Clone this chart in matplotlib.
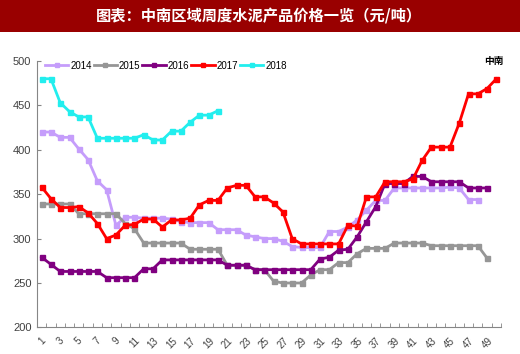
# -*- coding: utf-8 -*-
"""中南区域周度水泥产品价格一览 (weekly cement price, central-south region)"""

import numpy as np
import matplotlib
matplotlib.use('Agg')
import matplotlib.pyplot as plt
from matplotlib.patches import Rectangle

plt.rcParams['font.family'] = ['Liberation Sans', 'Noto Sans CJK SC', 'DejaVu Sans']

# weekly prices, yuan/ton
p2014 = [420, 420, 414, 414, 401, 389, 365, 355, 315, 324,
         324, 323, 323, 323, 322, 319, 318, 318, 318, 310,
         310, 310, 304, 302, 300, 300, 297, 291, 290, 290,
         290, 308, 308, 313, 321, 332, 343, 343, 357, 357,
         357, 357, 357, 357, 358, 357, 344, 344]
p2015 = [339, 339, 339, 339, 328, 328, 328, 328, 328, 317,
         311, 295, 295, 295, 295, 295, 288, 288, 288, 288,
         270, 270, 270, 265, 265, 252, 250, 250, 250, 259,
         265, 265, 273, 273, 283, 289, 289, 289, 295, 295,
         295, 295, 292, 292, 292, 292, 292, 292, 278]
p2016 = [279, 271, 263, 263, 263, 263, 263, 256, 256, 256,
         256, 266, 266, 276, 276, 276, 276, 276, 276, 276,
         270, 270, 270, 265, 265, 265, 265, 265, 265, 265,
         277, 279, 287, 288, 302, 319, 336, 362, 362, 362,
         370, 370, 364, 364, 364, 364, 357, 357, 357]
p2017 = [358, 345, 335, 335, 336, 329, 317, 300, 304, 315,
         316, 322, 322, 313, 321, 321, 323, 338, 343, 343,
         357, 360, 360, 347, 347, 340, 330, 300, 294, 294,
         294, 294, 294, 315, 314, 347, 347, 364, 364, 364,
         367, 388, 403, 403, 403, 430, 463, 463, 469, 480]
p2018 = [480, 480, 453, 443, 437, 437, 413, 413, 413, 413,
         413, 417, 411, 411, 421, 421, 431, 439, 439, 444]

series = [('2014', p2014, '#c59dfb'),
          ('2015', p2015, '#969696'),
          ('2016', p2016, '#800080'),
          ('2017', p2017, '#ff0000'),
          ('2018', p2018, '#22eeee')]

n_weeks = 50
week_labels = [str(w) for w in range(1, n_weeks + 1, 2)]

fig = plt.figure(figsize=(5.2, 3.54), dpi=100)

# title band
fig.patches.append(Rectangle((0, 0.91), 1, 0.09, transform=fig.transFigure,
                             facecolor='#990000', edgecolor='none', zorder=0))
fig.text(0.497, 0.957, '图表：中南区域周度水泥产品价格一览（元/吨）',
         color='white', fontsize=11, fontweight='bold', ha='center', va='center',
         family=['Noto Sans CJK SC', 'DejaVu Sans'])

ax = fig.add_axes([0.0712, 0.0751, 0.8923, 0.7526])

for name, vals, col in series:
    x = np.arange(1, len(vals) + 1)
    ax.plot(x, vals, color=col, lw=2, marker='s', ms=3.6, label=name)

ax.set_xlim(0.5, n_weeks + 0.5)
ax.set_ylim(200, 500)
ax.set_yticks(np.arange(200, 501, 50))

ax.set_xticks(np.arange(1, n_weeks + 1, 2))
ax.set_xticklabels(week_labels, rotation=45, fontsize=7, color='#404040')
ax.set_xticks(np.arange(0.5, n_weeks + 1, 1), minor=True)
ax.tick_params(axis='x', which='major', length=0, pad=6)
ax.tick_params(axis='x', which='minor', direction='in', length=3, color='#868686')
ax.tick_params(axis='y', direction='in', length=3, color='#868686',
               labelsize=8, labelcolor='#404040', pad=4)

for side in ['top', 'right']:
    ax.spines[side].set_visible(False)
for side in ['left', 'bottom']:
    ax.spines[side].set_color('#868686')
    ax.spines[side].set_linewidth(0.8)

ax.legend(loc='center left', bbox_to_anchor=(0.017, 0.982), ncol=5, frameon=False,
          fontsize=7, handlelength=2.4, handletextpad=0.2, columnspacing=0.2,
          borderpad=0, borderaxespad=0, markerscale=0.9)

ax.text(0.985, 1.0, '中南', transform=ax.transAxes, ha='center', va='center',
        fontsize=7, fontweight='bold', color='black',
        family=['Noto Sans CJK SC', 'DejaVu Sans'])

fig.savefig('out.png', dpi=100)
